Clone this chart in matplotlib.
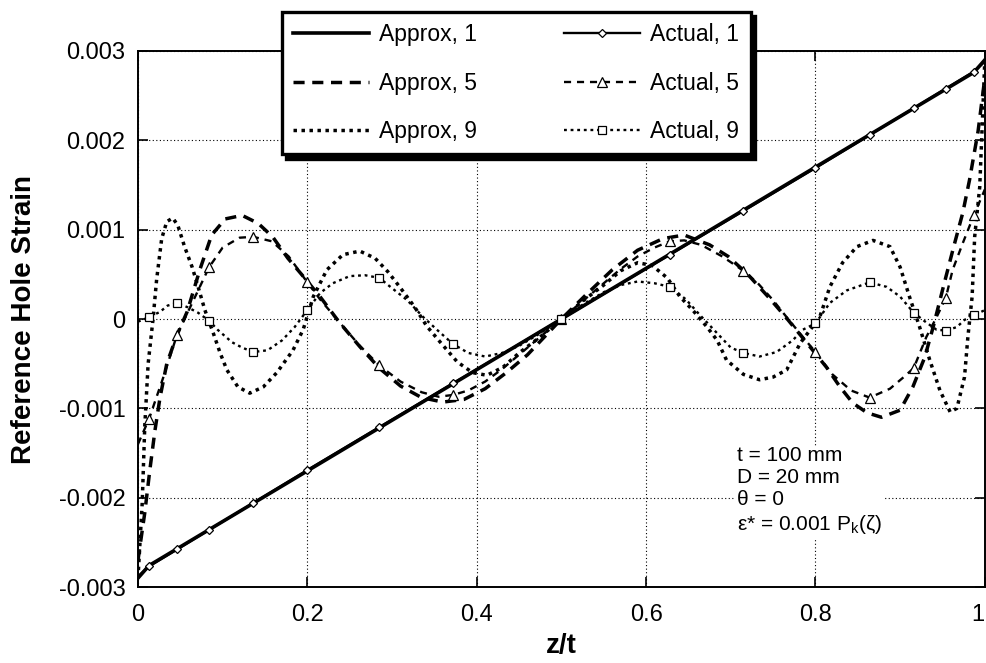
import numpy as np
import matplotlib
matplotlib.use("Agg")
import matplotlib.pyplot as plt

plt.rcParams['font.family'] = ['Liberation Sans', 'DejaVu Sans']
plt.rcParams['mathtext.fontset'] = 'custom'
plt.rcParams['mathtext.rm'] = 'Liberation Sans'
plt.rcParams['mathtext.it'] = 'Liberation Sans:italic'
plt.rcParams['mathtext.default'] = 'rm'

# values, strain in units of 1e-3
marker_z = [0.013, 0.046, 0.084, 0.136, 0.2, 0.285, 0.372, 0.5,
            0.628, 0.715, 0.8, 0.864, 0.916, 0.954, 0.987]

approx1_z = [0, 0.013, 0.987, 1.0]
approx1_e = [-2.90, -2.76, 2.76, 2.90]

actual1_z = [0, 0.013, 0.046, 0.084, 0.136, 0.2, 0.285, 0.372, 0.5,
             0.628, 0.715, 0.8, 0.864, 0.916, 0.954, 0.987, 1.0]
actual1_e = [-2.88, -2.77, -2.58, -2.36, -2.06, -1.69, -1.21, -0.72, 0.0,
             0.72, 1.21, 1.69, 2.06, 2.36, 2.58, 2.77, 2.88]

approx5_z = [0, 0.008, 0.014, 0.02, 0.026, 0.034, 0.046, 0.058, 0.073, 0.087,
             0.103, 0.123, 0.142, 0.159, 0.177, 0.194, 0.215, 0.238, 0.262, 0.285,
             0.31, 0.335, 0.36, 0.385, 0.41, 0.435, 0.46, 0.5, 0.53, 0.56,
             0.59, 0.62, 0.645, 0.675, 0.697, 0.72, 0.745, 0.765, 0.79, 0.813,
             0.829, 0.844, 0.861, 0.878, 0.9, 0.915, 0.929, 0.939, 0.951, 0.963,
             0.974, 0.982, 0.992, 1.0]
approx5_e = [-2.70, -2.17, -1.69, -1.25, -0.88, -0.50, -0.18, 0.08, 0.55, 0.94,
             1.12, 1.16, 1.07, 0.92, 0.68, 0.49, 0.25, -0.04, -0.31, -0.55,
             -0.75, -0.88, -0.93, -0.90, -0.78, -0.60, -0.40, 0.0, 0.28, 0.55,
             0.77, 0.90, 0.94, 0.83, 0.70, 0.50, 0.24, 0.02, -0.27, -0.54,
             -0.76, -0.94, -1.05, -1.10, -1.02, -0.76, -0.43, -0.09, 0.36, 0.80,
             1.19, 1.56, 2.10, 2.70]

actual5_z = [0, 0.013, 0.03, 0.046, 0.065, 0.084, 0.1, 0.12, 0.136, 0.158,
             0.178, 0.2, 0.215, 0.24, 0.262, 0.285, 0.31, 0.335, 0.355, 0.372,
             0.39, 0.41, 0.43, 0.45, 0.47, 0.5, 0.53, 0.55, 0.57, 0.59,
             0.61, 0.628, 0.645, 0.665, 0.69, 0.715, 0.732, 0.75, 0.766, 0.785,
             0.8, 0.82, 0.842, 0.864, 0.888, 0.903, 0.916, 0.931, 0.943, 0.954,
             0.962, 0.974, 0.987, 1.0]
actual5_e = [-1.40, -1.12, -0.65, -0.18, 0.20, 0.58, 0.80, 0.91, 0.92, 0.87,
             0.70, 0.41, 0.22, -0.06, -0.30, -0.52, -0.70, -0.82, -0.87, -0.85,
             -0.80, -0.70, -0.56, -0.40, -0.24, 0.0, 0.24, 0.40, 0.56, 0.70,
             0.80, 0.87, 0.88, 0.83, 0.70, 0.54, 0.40, 0.21, 0.02, -0.20,
             -0.37, -0.62, -0.80, -0.88, -0.78, -0.66, -0.55, -0.20, 0.02, 0.24,
             0.55, 0.85, 1.16, 1.45]

approx9_z = [0, 0.005, 0.008, 0.012, 0.018, 0.022, 0.028, 0.034, 0.041, 0.047,
             0.055, 0.064, 0.071, 0.079, 0.089, 0.097, 0.105, 0.118, 0.132, 0.148,
             0.164, 0.183, 0.195, 0.207, 0.223, 0.242, 0.262, 0.28, 0.295, 0.309,
             0.327, 0.341, 0.357, 0.377, 0.395, 0.412, 0.431, 0.45, 0.475, 0.5,
             0.525, 0.55, 0.57, 0.59, 0.607, 0.625, 0.64, 0.655, 0.672, 0.684,
             0.695, 0.715, 0.734, 0.75, 0.766, 0.782, 0.805, 0.817, 0.832, 0.849,
             0.868, 0.888, 0.9, 0.911, 0.923, 0.935, 0.947, 0.959, 0.967, 0.976,
             0.98, 0.985, 0.988, 0.994, 1.0]
approx9_e = [-2.90, -2.06, -1.20, -0.50, 0.02, 0.44, 0.90, 1.09, 1.13, 1.05,
             0.81, 0.58, 0.36, 0.10, -0.16, -0.38, -0.57, -0.76, -0.83, -0.76,
             -0.60, -0.35, -0.12, 0.25, 0.55, 0.72, 0.76, 0.68, 0.53, 0.36,
             0.13, -0.08, -0.26, -0.48, -0.60, -0.63, -0.54, -0.38, -0.20, 0.0,
             0.20, 0.38, 0.54, 0.63, 0.60, 0.46, 0.25, 0.10, -0.09, -0.24,
             -0.46, -0.62, -0.68, -0.65, -0.57, -0.27, 0.02, 0.36, 0.63, 0.81,
             0.88, 0.81, 0.58, 0.25, -0.09, -0.46, -0.80, -1.04, -1.00, -0.65,
             -0.20, 0.25, 0.92, 1.48, 2.90]

actual9_z = [0, 0.013, 0.026, 0.035, 0.046, 0.059, 0.071, 0.084, 0.094, 0.111,
             0.123, 0.136, 0.153, 0.17, 0.185, 0.2, 0.215, 0.23, 0.25, 0.268,
             0.285, 0.298, 0.318, 0.337, 0.353, 0.372, 0.39, 0.41, 0.43, 0.45,
             0.475, 0.5, 0.525, 0.55, 0.57, 0.59, 0.61, 0.628, 0.647, 0.663,
             0.682, 0.7, 0.715, 0.734, 0.754, 0.773, 0.785, 0.8, 0.817, 0.837,
             0.864, 0.884, 0.9, 0.916, 0.931, 0.943, 0.954, 0.967, 0.976, 0.987,
             1.0]
actual9_e = [-0.03, 0.02, 0.08, 0.15, 0.18, 0.13, 0.07, -0.02, -0.12, -0.26,
             -0.32, -0.37, -0.35, -0.24, -0.09, 0.10, 0.29, 0.40, 0.48, 0.49,
             0.46, 0.36, 0.21, 0.02, -0.12, -0.28, -0.38, -0.42, -0.38, -0.30,
             -0.16, 0.0, 0.16, 0.30, 0.38, 0.42, 0.40, 0.36, 0.22, 0.05,
             -0.14, -0.32, -0.38, -0.42, -0.37, -0.24, -0.12, -0.05, 0.18, 0.32,
             0.41, 0.36, 0.25, 0.07, -0.04, -0.12, -0.13, -0.09, -0.01, 0.04,
             0.10]

xticks = [0, 0.2, 0.4, 0.6, 0.8, 1.0]
xtick_labels = ["0", "0.2", "0.4", "0.6", "0.8", "1"]
yticks = [-0.003, -0.002, -0.001, 0, 0.001, 0.002, 0.003]
ytick_labels = ["-0.003", "-0.002", "-0.001", "0", "0.001", "0.002", "0.003"]


def marks(z):
    return [i for i, v in enumerate(z) if np.any(np.isclose(v, marker_z))]


fig = plt.figure(figsize=(9.87, 6.63), dpi=100)
ax = fig.add_axes([0.1398, 0.1146, 0.858, 0.8085])

e = lambda v: np.array(v) * 1e-3

ax.plot(approx1_z, e(approx1_e), color='k', lw=2.6, label="Approx, 1", zorder=3)
ax.plot(approx5_z, e(approx5_e), color='k', lw=2.5, dashes=(3.2, 2.2),
        label="Approx, 5", zorder=3)
ax.plot(approx9_z, e(approx9_e), color='k', lw=2.5, dashes=(1.0, 1.3),
        label="Approx, 9", zorder=3)
ax.plot(actual1_z, e(actual1_e), color='k', lw=1.7, marker='D', ms=4,
        mfc='white', mec='k', mew=0.9, markevery=marks(actual1_z),
        label="Actual, 1", zorder=4)
ax.plot(actual5_z, e(actual5_e), color='k', lw=1.7, dashes=(3.0, 2.5),
        marker='^', ms=6.5, mfc='white', mec='k', mew=0.9,
        markevery=marks(actual5_z), label="Actual, 5", zorder=4)
ax.plot(actual9_z, e(actual9_e), color='k', lw=1.7, dashes=(1.2, 1.6),
        marker='s', ms=6, mfc='white', mec='k', mew=0.9,
        markevery=marks(actual9_z), label="Actual, 9", zorder=4)

ax.set_xlim(0, 1)
ax.set_ylim(-0.003, 0.003)
ax.set_xticks(xticks)
ax.set_xticklabels(xtick_labels)
ax.get_xticklabels()[-1].set_horizontalalignment('right')
ax.set_yticks(yticks)
ax.set_yticklabels(ytick_labels)
ax.tick_params(direction='in', length=7, width=1.2, labelsize=17, pad=9,
               top=True, right=True)
ax.tick_params(axis='x', pad=12)
ax.grid(True, color='k', lw=0.8, dashes=(1, 2.2))
for s in ax.spines.values():
    s.set_linewidth(1.4)

ax.set_xlabel("z/t", fontsize=20, fontweight='bold', labelpad=5)
ax.set_ylabel("Reference Hole Strain", fontsize=20, fontweight='bold', labelpad=16)

ax.text(0.707, -0.00142,
        "t = 100 mm\nD = 20 mm\nθ = 0\nε* = 0.001 P$_k$(ζ)",
        fontsize=15, va='top', ha='left', linespacing=1.22, zorder=5,
        bbox=dict(facecolor='white', edgecolor='none', pad=1.5))

leg = ax.legend(ncol=2, loc='upper left', bbox_to_anchor=(282 / 987, 1 - 12 / 663),
                bbox_transform=fig.transFigure, fontsize=16.5, frameon=True,
                fancybox=False, edgecolor='k', framealpha=1, borderaxespad=0,
                handlelength=3.3, handletextpad=0.45, columnspacing=3.8,
                labelspacing=1.1, borderpad=0.5,
                shadow={'ox': 3, 'oy': -3, 'color': 'k', 'alpha': 1})
leg.get_frame().set_linewidth(2.4)
leg.set_zorder(10)

fig.savefig("out.png", dpi=100)
